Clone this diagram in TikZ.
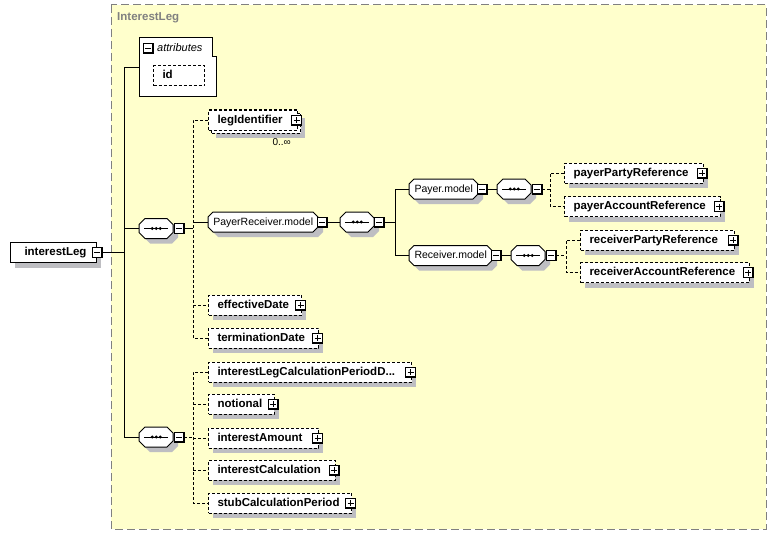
\documentclass[tikz,border=0pt]{standalone}
\usepackage{fontspec}
\setmainfont{Liberation Sans}

\definecolor{bgyellow}{RGB}{255,255,204}
\definecolor{framegray}{RGB}{128,128,128}
\definecolor{dropgray}{RGB}{190,190,194}

\tikzset{
  box/.style={anchor=west, inner ysep=0pt, minimum height=20pt, text height=8.5pt, text depth=2.5pt},
  elem/.style={box, draw, fill=white, line width=1pt, font=\bfseries\fontsize{11.5}{12}\selectfont,
    inner xsep=9pt, align=left},
  optelem/.style={elem, dash pattern=on 3pt off 2pt},
  grp/.style={box, inner xsep=0pt, font=\fontsize{10.5}{12}\selectfont},
  seq/.style={grp, minimum width=34pt,
    path picture={
      \draw[line width=1pt] ([xshift=-12pt]path picture bounding box.center) -- ([xshift=12pt]path picture bounding box.center);
      \foreach \d in {-4,0,4}
        \fill[black] ([xshift=\d pt]path picture bounding box.center) circle[radius=1.6pt];
    }},
  % octagon: left x, width, centre y, chamfer
  octa/.style n args={4}{insert path={
    (#1,#3-10+#4) -- (#1+#4,#3-10) -- (#1+#2-#4,#3-10) -- (#1+#2,#3-10+#4) --
    (#1+#2,#3+10-#4) -- (#1+#2-#4,#3+10) -- (#1+#4,#3+10) -- (#1,#3+10-#4) -- cycle}},
  pmbox/.style={draw, fill=white, line width=0.8pt, minimum size=10pt, inner sep=0pt},
  plusbox/.style={pmbox, path picture={
      \draw[line width=0.8pt] ([xshift=2pt]path picture bounding box.west) -- ([xshift=-2pt]path picture bounding box.east);
      \draw[line width=0.8pt] ([yshift=-2pt]path picture bounding box.north) -- ([yshift=2pt]path picture bounding box.south);
      \draw[line width=2pt] (path picture bounding box.north east) -- (path picture bounding box.south east) -- (path picture bounding box.south west);
    }},
  minusbox/.style={pmbox, path picture={
      \draw[line width=0.8pt] ([xshift=2pt]path picture bounding box.west) -- ([xshift=-2pt]path picture bounding box.east);
      \draw[line width=2pt] (path picture bounding box.north east) -- (path picture bounding box.south east) -- (path picture bounding box.south west);
    }},
  link/.style={line width=1pt},
  optlink/.style={link, dash pattern=on 3pt off 2pt},
}

\begin{document}
\begin{tikzpicture}[x=1pt,y=-1pt]
\useasboundingbox (0,0) rectangle (777,535);

% type frame
\path[fill=bgyellow] (111,5) rectangle (766,529);
\draw[framegray, line width=1pt, dash pattern=on 8pt off 4pt] (111,5) rectangle (766,529);
\node[anchor=west, text=framegray, font=\bfseries\fontsize{11.5}{12}\selectfont, inner sep=0pt] (title) at (117,18) {InterestLeg};

% shadows: left x / width / centre y
\foreach \x/\w/\y in {10/86/252.5, 153/51/76, 211/89/123, 208/93/305, 208/110/338,
    564/138.5/173, 564/155.5/206.5, 580/153.5/240, 580/168.5/272.5,
    208/203/372, 208/65.5/404, 208/110/438, 208/126.5/470, 208/143/503}
  \path[fill=dropgray] (\x+5,\y-5) rectangle (\x+\w+5,\y+15);
\foreach \x/\w/\y/\c in {139/34/228.5/6, 139/34/437/6, 340/34/222/6, 497/34/189/6, 511/34/255.5/6,
    208/110/222/5, 409/69/189/5, 409/83/255.5/5}
  \path[fill=dropgray, octa={\x+5}{\w}{\y+5}{\c}];

% octagons of the sequences and groups
\foreach \x/\w/\y/\c in {139/34/228.5/6, 139/34/437/6, 340/34/222/6, 497/34/189/6, 511/34/255.5/6,
    208/110/222/5, 409/69/189/5, 409/83/255.5/5}
  \draw[fill=white, line width=1pt, octa={\x}{\w}{\y}{\c}];

% attributes
\draw[fill=white, line width=1pt] (139,38) -- (212,38) -- (212,57) -- (216,57) -- (216,97) -- (139,97) -- cycle;
\coordinate (attrs) at (139,68);
\node[minusbox] (attrs-pm) at (148,48) {};
\node[anchor=west, font=\itshape\fontsize{11}{12}\selectfont, inner sep=0pt] (attrs-label) at (157,48) {attributes};
\node[optelem, text width=33pt] (id) at (153,76) {id};

% root element
\node[elem, inner xsep=14pt, text width=58pt] (interestLeg) at (10,252.5) {interestLeg};
\node[minusbox] (interestLeg-pm) at (interestLeg.east) {};

% sequences under the root
\node[seq] (seq1) at (139,228.5) {};
\node[minusbox] (seq1-pm) at ([xshift=5.5pt]seq1.east) {};
\node[seq] (seq3) at (139,437) {};
\node[minusbox] (seq3-pm) at ([xshift=5.5pt]seq3.east) {};

% first sequence
\node[optelem, minimum width=89pt] (legIdentifier-back) at (211,123) {};
\node[optelem, text width=71pt] (legIdentifier) at (208,120) {legIdentifier};
\node[plusbox] (legIdentifier-pm) at ([xshift=-1.5pt]legIdentifier.east) {};
\node[anchor=north east, font=\fontsize{10}{12}\selectfont, inner sep=0pt] (legIdentifier-occ) at (291,138) {0..∞};

\node[grp, minimum width=110pt] (payerReceiver) at (208,222) {PayerReceiver.model};
\node[minusbox] (payerReceiver-pm) at ([xshift=4pt]payerReceiver.east) {};
\node[seq] (seq2) at (340,222) {};
\node[minusbox] (seq2-pm) at ([xshift=5pt]seq2.east) {};

\node[grp, minimum width=69pt] (payer) at (409,189) {Payer.model};
\node[minusbox] (payer-pm) at ([xshift=4pt]payer.east) {};
\node[seq] (payerSeq) at (497,189) {};
\node[minusbox] (payerSeq-pm) at ([xshift=5.5pt]payerSeq.east) {};
\node[optelem, text width=120.5pt] (payerParty) at (564,173) {payerPartyReference};
\node[plusbox] (payerParty-pm) at ([xshift=-1.5pt]payerParty.east) {};
\node[optelem, text width=137.5pt] (payerAccount) at (564,206.5) {payerAccountReference};
\node[plusbox] (payerAccount-pm) at ([xshift=-1.5pt]payerAccount.east) {};

\node[grp, minimum width=83pt] (receiver) at (409,255.5) {Receiver.model};
\node[minusbox] (receiver-pm) at ([xshift=4pt]receiver.east) {};
\node[seq] (receiverSeq) at (511,255.5) {};
\node[minusbox] (receiverSeq-pm) at ([xshift=5.5pt]receiverSeq.east) {};
\node[optelem, text width=135.5pt] (receiverParty) at (580,240) {receiverPartyReference};
\node[plusbox] (receiverParty-pm) at ([xshift=-1.5pt]receiverParty.east) {};
\node[optelem, text width=150.5pt] (receiverAccount) at (580,272.5) {receiverAccountReference};
\node[plusbox] (receiverAccount-pm) at ([xshift=-1.5pt]receiverAccount.east) {};

\node[optelem, text width=75pt] (effectiveDate) at (208,305) {effectiveDate};
\node[plusbox] (effectiveDate-pm) at ([xshift=-1.5pt]effectiveDate.east) {};
\node[optelem, text width=92pt] (terminationDate) at (208,338) {terminationDate};
\node[plusbox] (terminationDate-pm) at ([xshift=-1.5pt]terminationDate.east) {};

% second sequence
\node[optelem, text width=185pt] (calcPeriodDates) at (208,372) {interestLegCalculationPeriodD...};
\node[plusbox] (calcPeriodDates-pm) at ([xshift=-1.5pt]calcPeriodDates.east) {};
\node[optelem, text width=47.5pt] (notional) at (208,404) {notional};
\node[plusbox] (notional-pm) at ([xshift=-1.5pt]notional.east) {};
\node[optelem, text width=92pt] (interestAmount) at (208,438) {interestAmount};
\node[plusbox] (interestAmount-pm) at ([xshift=-1.5pt]interestAmount.east) {};
\node[optelem, text width=108.5pt] (interestCalculation) at (208,470) {interestCalculation};
\node[plusbox] (interestCalculation-pm) at ([xshift=-1.5pt]interestCalculation.east) {};
\node[optelem, text width=125pt] (stubPeriod) at (208,503) {stubCalculationPeriod};
\node[plusbox] (stubPeriod-pm) at ([xshift=-1.5pt]stubPeriod.east) {};

% connectors
\coordinate (trunk) at (124,68);
\coordinate (ch1) at (193,120);
\coordinate (ch2) at (395,189);
\coordinate (ch3) at (550,173);
\coordinate (ch4) at (566,240);
\coordinate (ch5) at (193,372);

\draw[link] (interestLeg-pm.east) -- (interestLeg-pm.east -| trunk);
\draw[link] (attrs) -- (trunk) |- (seq3.west);
\draw[link] (trunk |- seq1.west) -- (seq1.west);

\draw[link] (seq1-pm.east) -- (seq1-pm.east -| ch1);
\draw[optlink] (legIdentifier.west) -| (ch1) |- (terminationDate.west);
\draw[optlink] (ch1 |- effectiveDate.west) -- (effectiveDate.west);
\draw[link] (ch1 |- payerReceiver.west) -- (payerReceiver.west);

\draw[link] (payerReceiver-pm.east) -- (seq2.west);
\draw[link] (seq2-pm.east) -- (seq2-pm.east -| ch2);
\draw[link] (payer.west) -| (ch2) |- (receiver.west);

\draw[link] (payer-pm.east) -- (payerSeq.west);
\draw[optlink] (payerSeq-pm.east) -- (payerSeq-pm.east -| ch3);
\draw[optlink] (payerParty.west) -| (ch3) |- (payerAccount.west);

\draw[link] (receiver-pm.east) -- (receiverSeq.west);
\draw[optlink] (receiverSeq-pm.east) -- (receiverSeq-pm.east -| ch4);
\draw[optlink] (receiverParty.west) -| (ch4) |- (receiverAccount.west);

\draw[optlink] (seq3-pm.east) -- (seq3-pm.east -| ch5);
\draw[optlink] (calcPeriodDates.west) -| (ch5) |- (stubPeriod.west);
\draw[optlink] (ch5 |- notional.west) -- (notional.west);
\draw[optlink] (ch5 |- interestAmount.west) -- (interestAmount.west);
\draw[optlink] (ch5 |- interestCalculation.west) -- (interestCalculation.west);

\end{tikzpicture}
\end{document}
